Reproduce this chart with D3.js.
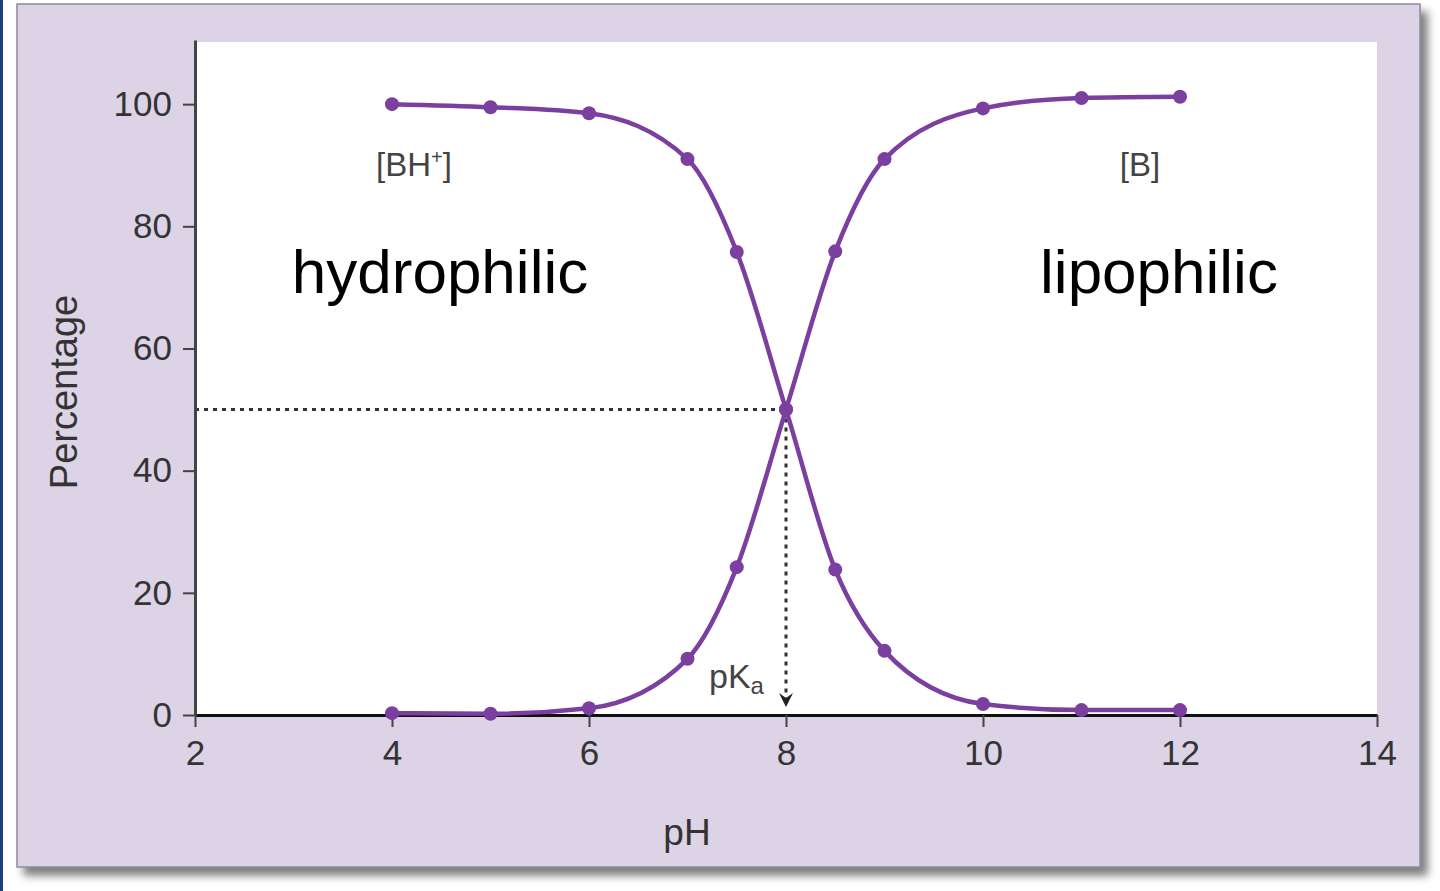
<!DOCTYPE html>
<html lang="en">
<head>
    <meta charset="UTF-8">
    <title>pH vs percentage ionised</title>
    <script src="https://d3js.org/d3.v7.min.js"></script>
    <style>
        html, body { margin: 0; padding: 0; background: #fff; }
        svg { display: block; font-family: 'Liberation Sans', Arial, sans-serif; }
    </style>
</head>
<body>
<div id="chart"></div>
<script>
    // values
    const phValues = [4, 5, 6, 7, 7.5, 8, 8.5, 9, 10, 11, 12];
    const bhPlus = [100, 99.5, 98.5, 91, 75.8, 50, 23.8, 10.5, 1.8, 0.8, 0.8];
    const baseB = [0.3, 0.2, 1.1, 9.2, 24.2, 50, 75.9, 91, 99.3, 101, 101.2];
    const xTicks = [2, 4, 6, 8, 10, 12, 14];
    const yTicks = [0, 20, 40, 60, 80, 100];
    const pKa = 8;

    const width = 1440, height = 891;
    const purple = "#7b3f9f";

    const svg = d3.select("#chart").append("svg")
        .attr("width", width)
        .attr("height", height);

    const defs = svg.append("defs");
    defs.append("filter").attr("id", "shadow")
        .attr("x", "-5%").attr("y", "-5%").attr("width", "115%").attr("height", "115%")
        .append("feDropShadow")
        .attr("dx", 7).attr("dy", 8).attr("stdDeviation", 4)
        .attr("flood-color", "#555").attr("flood-opacity", 0.75);

    // left edge strip
    svg.append("rect").attr("x", 0).attr("y", 0).attr("width", 3).attr("height", height).attr("fill", "#1f3f80");

    // panel
    svg.append("rect")
        .attr("x", 17).attr("y", 4).attr("width", 1403).attr("height", 863)
        .attr("fill", "#dcd3e6")
        .attr("stroke", "#8d8d96").attr("stroke-width", 1.5)
        .attr("filter", "url(#shadow)");

    const x = d3.scaleLinear().domain([2, 14]).range([195, 1377]);
    const y = d3.scaleLinear().domain([0, 110.5]).range([715, 40]);

    // white plot area
    svg.append("rect")
        .attr("x", x(2)).attr("y", 42)
        .attr("width", x(14) - x(2)).attr("height", y(0) - 42)
        .attr("fill", "#fff");

    // dotted guides at pKa
    svg.append("line")
        .attr("x1", x(2)).attr("x2", x(pKa))
        .attr("y1", y(50)).attr("y2", y(50))
        .attr("stroke", "#333").attr("stroke-width", 3).attr("stroke-dasharray", "4,5");
    svg.append("line")
        .attr("x1", x(pKa)).attr("x2", x(pKa))
        .attr("y1", y(50)).attr("y2", y(0) - 14)
        .attr("stroke", "#333").attr("stroke-width", 3).attr("stroke-dasharray", "4,5");
    svg.append("path")
        .attr("d", d3.line()([[x(pKa) - 7, y(0) - 22], [x(pKa), y(0) - 8], [x(pKa) + 7, y(0) - 22], [x(pKa), y(0) - 17]]) + "Z")
        .attr("fill", "#222");

    // axes
    const xAxis = svg.append("g")
        .attr("transform", `translate(0,${y(0)})`)
        .call(d3.axisBottom(x).tickValues(xTicks).tickSize(12).tickSizeOuter(0).tickPadding(13));
    xAxis.select(".domain").attr("stroke", "#111").attr("stroke-width", 3);
    xAxis.selectAll(".tick line").attr("stroke", "#444").attr("stroke-width", 2);
    xAxis.selectAll("text").attr("font-size", 35).attr("fill", "#333").attr("font-family", "'Liberation Sans', Arial, sans-serif");

    const yAxis = svg.append("g")
        .attr("transform", `translate(${x(2)},0)`)
        .call(d3.axisLeft(y).tickValues(yTicks).tickSize(12).tickSizeOuter(0).tickPadding(11));
    yAxis.select(".domain").attr("stroke", "#444").attr("stroke-width", 3);
    yAxis.selectAll(".tick line").attr("stroke", "#444").attr("stroke-width", 2);
    yAxis.selectAll("text").attr("font-size", 35).attr("fill", "#333").attr("font-family", "'Liberation Sans', Arial, sans-serif");

    // curves
    const line = d3.line()
        .x(d => x(d[0]))
        .y(d => y(d[1]))
        .curve(d3.curveMonotoneX);

    [bhPlus, baseB].forEach(series => {
        const pts = phValues.map((p, i) => [p, series[i]]);
        svg.append("path")
            .attr("d", line(pts))
            .attr("fill", "none")
            .attr("stroke", purple)
            .attr("stroke-width", 4.5);
        svg.selectAll(null)
            .data(pts)
            .join("circle")
            .attr("cx", d => x(d[0]))
            .attr("cy", d => y(d[1]))
            .attr("r", 7)
            .attr("fill", purple);
    });

    // axis titles
    svg.append("text")
        .attr("x", 687).attr("y", 845)
        .attr("text-anchor", "middle")
        .attr("font-size", 37).attr("fill", "#333")
        .text("pH");
    svg.append("text")
        .attr("transform", "translate(77,392) rotate(-90)")
        .attr("text-anchor", "middle")
        .attr("font-size", 38).attr("fill", "#333")
        .text("Percentage");

    // annotations
    svg.append("text")
        .attr("x", 440).attr("y", 293)
        .attr("text-anchor", "middle")
        .attr("font-size", 62).attr("fill", "#000")
        .text("hydrophilic");
    svg.append("text")
        .attr("x", 1159).attr("y", 293)
        .attr("text-anchor", "middle")
        .attr("font-size", 62).attr("fill", "#000")
        .text("lipophilic");

    const bh = svg.append("text")
        .attr("x", 376).attr("y", 176)
        .attr("font-size", 33).attr("fill", "#444");
    bh.append("tspan").text("[BH");
    bh.append("tspan").attr("font-size", 20).attr("dy", -12).text("+");
    bh.append("tspan").attr("dy", 12).text("]");

    svg.append("text")
        .attr("x", 1140).attr("y", 176)
        .attr("text-anchor", "middle")
        .attr("font-size", 33).attr("fill", "#444")
        .text("[B]");

    const pk = svg.append("text")
        .attr("x", 709).attr("y", 688)
        .attr("font-size", 34).attr("fill", "#444");
    pk.append("tspan").text("pK");
    pk.append("tspan").attr("font-size", 24).attr("dy", 6).text("a");
</script>
</body>
</html>
